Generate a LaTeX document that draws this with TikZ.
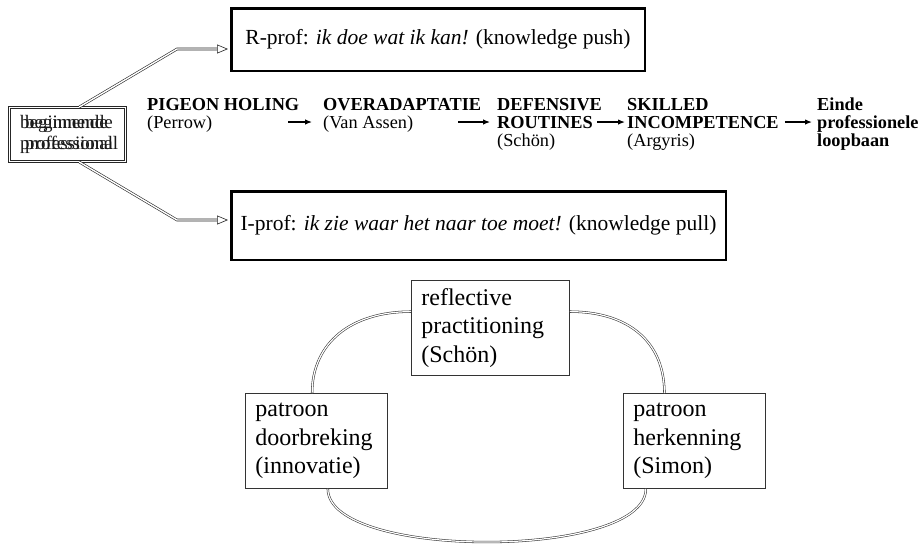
\documentclass[tikz,border=0pt]{standalone}
\usepackage{fontspec}
\setmainfont{Liberation Serif}
\usetikzlibrary{arrows.meta,calc}
\begin{document}
\begin{tikzpicture}[x=1pt,y=-1pt,
  profbox/.style={draw, line width=2.5pt, inner sep=0pt, font=\fontsize{21.5}{25}\selectfont},
  startbox/.style={draw=black!85, line width=0.6pt, double=white, double distance=1.5pt,
    inner sep=0pt, minimum width=116.3pt, minimum height=54.3pt},
  starttext/.style={inner sep=0pt, anchor=base west, text=black!90, font=\fontsize{19}{21}\selectfont},
  phase/.style={inner sep=0pt, anchor=base west, font=\fontsize{18.3}{18}\selectfont\bfseries},
  author/.style={inner sep=0pt, anchor=base west, font=\fontsize{18.3}{18}\selectfont},
  cyclebox/.style={draw=black!80, line width=0.8pt, inner xsep=10pt, inner ysep=0pt, align=left,
    anchor=north west, minimum height=95pt, font=\fontsize{24}{28.5}\selectfont},
  dconn/.style={draw=black!85, line width=0.6pt, double=white, double distance=1.4pt,
    -{Triangle[open, length=11pt, width=9pt]}, shorten >=2pt},
  arr/.style={line width=1.2pt, -{Latex[length=7pt,width=5.5pt]}},
  loop/.style={draw=black!80, line width=0.55pt, double=white, double distance=1.2pt},
]
\path[fill=white] (0,0) rectangle (923,547);
\useasboundingbox (0,0) rectangle (923,547);

% starting point: the professional, text printed twice with a small offset
\node[startbox] (lbox) at (67.5,134.5) {};
\node[starttext] (lt1) at (20,128) {beginnende};
\node[starttext] (lt2) at (20,149.5) {professional};
\node[starttext] (lt3) at (25,128) {beginnende};
\node[starttext] (lt4) at (25,149.5) {professional};

% the two professional types
\node[profbox, minimum width=413.5pt, minimum height=62.5pt] (rbox) at (438,39.5)
  {R-prof: \textit{ik doe wat ik kan!} (knowledge push)};
\node[profbox, minimum width=494.5pt, minimum height=68.5pt] (ibox) at (478.5,225.5)
  {I-prof: \textit{ik zie waar het naar toe moet!} (knowledge pull)};

\coordinate (kr) at (177,49);
\coordinate (ki) at (177,220);
\draw[dconn] ($(lbox.north west)!0.6!(lbox.north east)$) -- (kr) -- (kr -| rbox.west);
\draw[dconn] ($(lbox.south west)!0.6!(lbox.south east)$) -- (ki) -- (ki -| ibox.west);

% stages of the routine career
\node[phase]  (c1a) at (147,110) {PIGEON HOLING};
\node[author] (c1b) at (147,128) {(Perrow)};
\node[phase]  (c2a) at (323,110) {OVERADAPTATIE};
\node[author] (c2b) at (323,128) {(Van Assen)};
\node[phase]  (c3a) at (497,110) {DEFENSIVE};
\node[phase]  (c3b) at (497,128) {ROUTINES};
\node[author] (c3c) at (497,146) {(Schön)};
\node[phase]  (c4a) at (627,110) {SKILLED};
\node[phase]  (c4b) at (627,128) {INCOMPETENCE};
\node[author] (c4c) at (627,146) {(Argyris)};
\node[phase]  (c5a) at (817,110) {Einde};
\node[phase]  (c5b) at (817,128) {professionele};
\node[phase]  (c5c) at (817,146) {loopbaan};

\coordinate (a1) at (288,122);
\coordinate (a2) at (458,122);
\draw[arr, shorten >=11pt] (a1) -- (a1 -| c2b.west);
\draw[arr, shorten >=7pt] (a2) -- (a2 -| c3b.west);
\draw[arr, shorten <=4pt, shorten >=2pt] (c3b.east) -- (c3b.east -| c4b.west);
\draw[arr, shorten <=6pt, shorten >=5pt] (c4b.east) -- (c4b.east -| c5b.west);

% the innovation cycle
\node[cyclebox, text width=138pt] (tb) at (411,280) {reflective\\practitioning\\(Schön)};
\node[cyclebox, text width=122pt] (pl) at (245,393) {patroon\\doorbreking\\(innovatie)};
\node[cyclebox, text width=122pt] (pr) at (623,393) {patroon\\herkenning\\(Simon)};

\draw[loop] ($(tb.north west)!0.33!(tb.south west)$) .. controls +(-60,0) and +(0,-50) ..
  ($(pl.north west)!0.47!(pl.north east)$);
\draw[loop] ($(tb.north east)!0.33!(tb.south east)$) .. controls +(60,0) and +(0,-50) ..
  ($(pr.north west)!0.29!(pr.north east)$);
\draw[loop] ($(pl.south west)!0.58!(pl.south east)$) .. controls +(0,71) and +(0,71) ..
  ($(pr.south west)!0.16!(pr.south east)$);
\end{tikzpicture}
\end{document}
